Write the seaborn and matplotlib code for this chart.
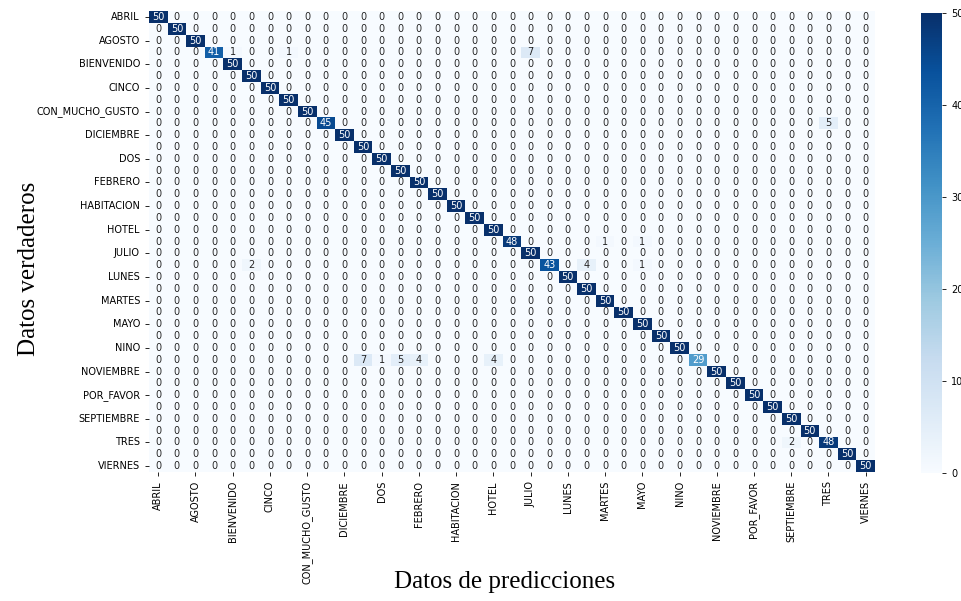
import numpy as np
import pandas as pd
import matplotlib
matplotlib.use("Agg")
import matplotlib.pyplot as plt
import seaborn as sns

labels = ["ABRIL", "ADIOS", "AGOSTO", "BANO", "BIENVENIDO", "BUENOS_DIAS",
          "CINCO", "COMO_ESTAS", "CON_MUCHO_GUSTO", "CUATRO", "DICIEMBRE",
          "DOMINGO", "DOS", "ENERO", "FEBRERO", "GRACIAS", "HABITACION",
          "HOLA", "HOTEL", "JUEVES", "JULIO", "JUNIO", "LUNES", "MANANA",
          "MARTES", "MARZO", "MAYO", "MIERCOLES", "NINO", "NOMBRE",
          "NOVIEMBRE", "OCTUBRE", "POR_FAVOR", "SABADO", "SEPTIEMBRE",
          "SIETE", "TRES", "UNO", "VIERNES"]

# aciertos por clase (diagonal)
diag = [50, 50, 50, 41, 50, 50, 50, 50, 50, 45,
        50, 50, 50, 50, 50, 50, 50, 50, 50, 48,
        50, 43, 50, 50, 50, 50, 50, 50, 50, 29,
        50, 50, 50, 50, 50, 50, 48, 50, 50]

# errores fuera de la diagonal
err_true = [3, 3, 3, 9, 19, 19, 21, 21, 21, 29, 29, 29, 29, 29, 36]
err_pred = [4, 7, 20, 36, 24, 26, 5, 23, 26, 11, 12, 13, 14, 18, 34]
err_count = [1, 1, 7, 5, 1, 1, 2, 4, 1, 7, 1, 5, 4, 4, 2]

n = len(labels)
CM = np.diag(diag)
for t, p, c in zip(err_true, err_pred, err_count):
    CM[t, p] = c
df_cm = pd.DataFrame(CM, index=labels, columns=labels)

fig = plt.figure(figsize=(9.61, 6.01), dpi=100)
ax = fig.add_axes([0.155, 0.2146, 0.7555, 0.767])
cax = fig.add_axes([0.9584, 0.2130, 0.0219, 0.765])

sns.heatmap(df_cm, annot=True, fmt='d', cmap='Blues', ax=ax, cbar_ax=cax,
            xticklabels=2, yticklabels=2, annot_kws={"size": 7})

ax.tick_params(axis='both', labelsize=7, length=3, width=0.6)
cax.tick_params(labelsize=7, length=3, width=0.6)

ax.set_xlabel("Datos de predicciones", fontsize=18, family="Liberation Serif")
ax.set_ylabel("Datos verdaderos", fontsize=18, family="Liberation Serif")
ax.xaxis.set_label_coords(0.49, -0.215)
ax.yaxis.set_label_coords(-0.15, 0.44)

fig.savefig("out.png", dpi=100)
